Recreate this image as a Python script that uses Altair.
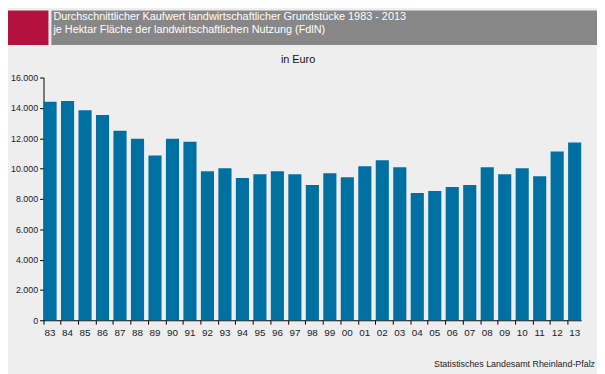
import altair as alt
import pandas as pd

years = ["83", "84", "85", "86", "87", "88", "89", "90", "91", "92", "93", "94",
         "95", "96", "97", "98", "99", "00", "01", "02", "03", "04", "05", "06",
         "07", "08", "09", "10", "11", "12", "13"]
values = [14400, 14450, 13850, 13530, 12490, 11970, 10860, 11970, 11770, 9820,
          10020, 9370, 9630, 9820, 9630, 8910, 9690, 9430, 10150, 10540, 10080,
          8390, 8520, 8780, 8910, 10080, 9630, 10020, 9500, 11120, 11710]

title_lines = ["Durchschnittlicher Kaufwert landwirtschaftlicher Grundstücke 1983 - 2013",
               "je Hektar Fläche der landwirtschaftlichen Nutzung (FdlN)"]
unit_label = "in Euro"
source_label = "Statistisches Landesamt Rheinland-Pfalz"

FONT = "Liberation Sans"
df = pd.DataFrame({"Jahr": years, "Wert": values})
one = pd.DataFrame({"k": [0]})

# plot area origin in the picture: x=44, y=76
crimson = alt.Chart(one).mark_rect(color="#b5113e").encode(
    x=alt.value(-36), x2=alt.value(5), y=alt.value(-68), y2=alt.value(-33))
grayband = alt.Chart(one).mark_rect(color="#878787").encode(
    x=alt.value(8), x2=alt.value(561), y=alt.value(-68), y2=alt.value(-33))

t1 = alt.Chart(one).mark_text(text=title_lines[0], color="white", font=FONT, fontSize=11,
                              align="left", baseline="middle").encode(
    x=alt.value(10), y=alt.value(-61))
t2 = alt.Chart(one).mark_text(text=title_lines[1], color="white", font=FONT, fontSize=11,
                              align="left", baseline="middle").encode(
    x=alt.value(10), y=alt.value(-48.5))
unit = alt.Chart(one).mark_text(text=unit_label, color="#111111", font=FONT, fontSize=11,
                                align="center", baseline="middle").encode(
    x=alt.value(258), y=alt.value(-17.5))
src = alt.Chart(one).mark_text(text=source_label, color="#222222", font=FONT, fontSize=9,
                               align="right", baseline="middle").encode(
    x=alt.value(559), y=alt.value(290))

bars = alt.Chart(df).mark_bar(color="#0070a2").encode(
    x=alt.X("Jahr:N", sort=None, title=None,
            scale=alt.Scale(paddingInner=0.25, paddingOuter=0.0),
            axis=alt.Axis(labelAngle=0, bandPosition=0, tickSize=4, labelPadding=3,
                          domainColor="black", tickColor="black", labelColor="#1a1a2a",
                          labelFontSize=10, labelFont=FONT, grid=False)),
    y=alt.Y("Wert:Q", title=None,
            scale=alt.Scale(domain=[0, 16000], nice=False),
            axis=alt.Axis(values=list(range(0, 16001, 2000)), tickSize=4, labelPadding=2,
                          domainColor="black", tickColor="black", labelColor="#1a1a2a",
                          labelFontSize=9, labelFont=FONT, grid=False,
                          labelExpr="replace(format(datum.value, ','), ',', '.')")),
)

chart = alt.layer(crimson, grayband, bars, t1, t2, unit, src).properties(
    width=545, height=246,
    autosize=alt.AutoSizeParams(type="none"),
    padding={"left": 36, "top": 68, "right": 16, "bottom": 52},
).configure(background="#eeeeee").configure_view(stroke=None)

chart.save("out.html", embed_options={"renderer": "svg", "actions": False})
